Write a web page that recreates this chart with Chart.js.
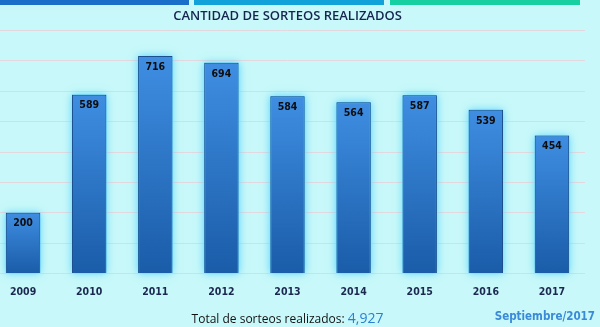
<!DOCTYPE html>
<html>
<head>
<meta charset="utf-8">
<script src="https://cdn.jsdelivr.net/npm/chart.js@4.4.1/dist/chart.umd.min.js"></script>
<style>
  html, body { margin: 0; padding: 0; }
  body { width: 600px; height: 327px; background: #c8f8f9; position: relative; overflow: hidden; }
  .strip { position: absolute; top: 0; height: 5px; }
  #wrap { position: absolute; left: -10px; top: 0; width: 595px; height: 314px; }
  #foot { position: absolute; top: 308px; left: 0; width: 575px; text-align: center;
          font-family: "Open Sans", sans-serif; font-size: 12px; color: #111; }
  #foot b { font-weight: normal; color: #2a7fd4; font-size: 14px; }
  #date { position: absolute; top: 309px; right: 5px; font-family: "DejaVu Sans Condensed", sans-serif;
          font-weight: bold; font-size: 11.5px; color: #3a8ad8; }
</style>
</head>
<body>
<div class="strip" style="left:0;width:189px;background:#1a70c8"></div>
<div class="strip" style="left:194px;width:190px;background:#12a2da"></div>
<div class="strip" style="left:390px;width:190px;background:#16d0a2"></div>
<div id="wrap"><canvas id="chart"></canvas></div>
<div id="foot">Total de sorteos realizados: <b>4,927</b></div>
<div id="date">Septiembre/2017</div>
<script>
const years = ['2009', '2010', '2011', '2012', '2013', '2014', '2015', '2016', '2017'];
const sorteos = [200, 589, 716, 694, 584, 564, 587, 539, 454];

// ── Bar look ────────────────────────────────────────────────────────────────

function barGradient(ctx) {
  const chart = ctx.chart;
  const area = chart.chartArea;
  if (!area || ctx.parsed == null) return '#2a74c8';
  const top = chart.scales.y.getPixelForValue(ctx.parsed.y);
  const grad = chart.ctx.createLinearGradient(0, top, 0, area.bottom);
  grad.addColorStop(0, '#3f8ee2');
  grad.addColorStop(1, '#1a5ca8');
  return grad;
}

// halo behind each bar (bar element clips its own drawing, so paint it first)
const glow = {
  id: 'glow',
  beforeDatasetsDraw(chart) {
    const c = chart.ctx;
    const meta = chart.getDatasetMeta(0);
    c.save();
    c.shadowColor = 'rgba(80,210,255,1)';
    c.shadowBlur = 8;
    c.fillStyle = '#5fc8f5';
    meta.data.forEach(bar => {
      const w = bar.width;
      c.fillRect(bar.x - w / 2, bar.y, w, bar.base - bar.y);
    });
    c.restore();
  }
};

const valueLabels = {
  id: 'valueLabels',
  afterDatasetsDraw(chart) {
    const c = chart.ctx;
    const meta = chart.getDatasetMeta(0);
    c.save();
    c.font = '600 10.5px "DejaVu Sans Condensed", sans-serif';
    c.fillStyle = '#0d0d0d';
    c.textAlign = 'center';
    c.textBaseline = 'middle';
    meta.data.forEach((bar, i) => {
      c.fillText(sorteos[i], bar.x, bar.y + 11);
    });
    c.restore();
  }
};

new Chart(document.getElementById('chart'), {
  type: 'bar',
  data: {
    labels: years,
    datasets: [{
      data: sorteos,
      backgroundColor: barGradient,
      borderColor: '#1b4f8e',
      borderWidth: 1,
      categoryPercentage: 1,
      barPercentage: 0.52
    }]
  },
  options: {
    responsive: true,
    maintainAspectRatio: false,
    animation: false,
    layout: { padding: { bottom: 2 } },
    plugins: {
      legend: { display: false },
      tooltip: { enabled: false },
      title: {
        display: true,
        text: 'CANTIDAD DE SORTEOS REALIZADOS',
        color: '#16254e',
        font: { family: '"Open Sans", sans-serif', size: 13, weight: '600' },
        padding: { top: 8, bottom: 7 }
      }
    },
    scales: {
      x: {
        grid: { display: false, drawTicks: false },
        border: { display: false },
        ticks: {
          color: '#1b2850',
          padding: 13,
          font: { family: '"DejaVu Sans Condensed", sans-serif', size: 10.5, weight: 'bold' }
        }
      },
      y: {
        min: 0,
        max: 800,
        ticks: { display: false, stepSize: 100 },
        grid: { color: '#e2d8de', lineWidth: 1, drawTicks: false },
        border: { display: false }
      }
    }
  },
  plugins: [glow, valueLabels]
});
</script>
</body>
</html>
